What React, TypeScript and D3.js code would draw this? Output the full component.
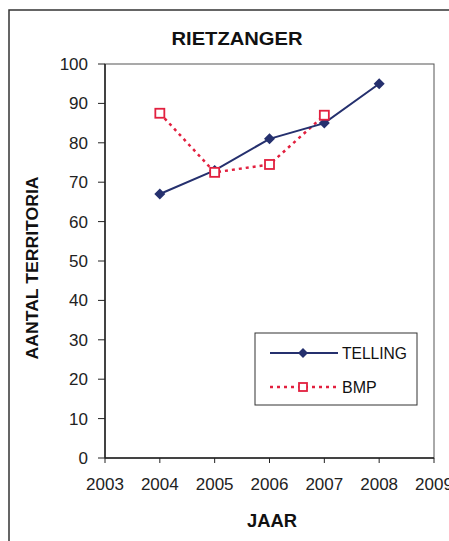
import React from "react";
import * as d3 from "d3";

const years = [2004, 2005, 2006, 2007, 2008];
const telling = [67, 73, 81, 85, 95];
const bmpYears = [2004, 2005, 2006, 2007];
const bmp = [87.5, 72.5, 74.5, 87];
const xTicks = [2003, 2004, 2005, 2006, 2007, 2008, 2009];
const yTicks = [0, 10, 20, 30, 40, 50, 60, 70, 80, 90, 100];
const title = "RIETZANGER";
const xTitle = "JAAR";
const yTitle = "AANTAL TERRITORIA";
const seriesNames = ["TELLING", "BMP"];

const W = 449;
const H = 541;
const FONT = "'Liberation Sans', Arial, sans-serif";
const NAVY = "#25306e";
const RED = "#e2203f";

export default function App() {
  const x = d3.scaleLinear().domain([2003, 2009]).range([105, 434]);
  const y = d3.scaleLinear().domain([0, 100]).range([458, 64]);
  const line = d3
    .line<[number, number]>()
    .x((d) => x(d[0]))
    .y((d) => y(d[1]));
  const tData: [number, number][] = years.map((yr, i) => [yr, telling[i]]);
  const bData: [number, number][] = bmpYears.map((yr, i) => [yr, bmp[i]]);
  const diamond = (cx: number, cy: number, r: number) =>
    `M${cx},${cy - r}L${cx + r},${cy}L${cx},${cy + r}L${cx - r},${cy}Z`;

  return (
    <svg
      width={W}
      height={H}
      style={{ position: "absolute", left: 0, top: 0, background: "#fff" }}
      fontFamily={FONT}
    >
      <rect x={0} y={0} width={W} height={H} fill="#fff" />
      {/* outer frame */}
      <rect x={9} y={10} width={470} height={580} fill="none" stroke="#333" strokeWidth={1.5} />
      {/* title */}
      <text x={237} y={45} textAnchor="middle" fontSize={18} fontWeight="bold" fill="#111" textLength={131} lengthAdjust="spacingAndGlyphs">
        {title}
      </text>
      {/* plot box */}
      <rect x={x(2003)} y={y(100)} width={x(2009) - x(2003)} height={y(0) - y(100)} fill="none" stroke="#555" strokeWidth={1} />
      {/* axes */}
      <line x1={x(2003)} x2={x(2003)} y1={y(100)} y2={y(0)} stroke="#222" strokeWidth={1.5} />
      <line x1={x(2003)} x2={x(2009)} y1={y(0)} y2={y(0)} stroke="#222" strokeWidth={1.5} />
      {yTicks.map((t) => (
        <g key={"y" + t}>
          <line x1={x(2003) - 7} x2={x(2003)} y1={y(t)} y2={y(t)} stroke="#222" strokeWidth={1} />
          <text x={88} y={y(t) + 6} textAnchor="end" fontSize={17} fill="#222">
            {t}
          </text>
        </g>
      ))}
      {xTicks.map((t) => (
        <g key={"x" + t}>
          <line x1={x(t)} x2={x(t)} y1={y(0)} y2={y(0) + 5} stroke="#222" strokeWidth={1} />
          <text x={x(t)} y={490} textAnchor="middle" fontSize={17} fill="#222">
            {t}
          </text>
        </g>
      ))}
      <text x={272} y={527} textAnchor="middle" fontSize={18} fontWeight="bold" fill="#111" textLength={50} lengthAdjust="spacingAndGlyphs">
        {xTitle}
      </text>
      <text
        transform={`translate(38,268) rotate(-90)`}
        textAnchor="middle"
        fontSize={17}
        fontWeight="bold"
        fill="#111"
        textLength={183}
        lengthAdjust="spacingAndGlyphs"
      >
        {yTitle}
      </text>
      {/* series */}
      <path d={line(bData) || ""} fill="none" stroke={RED} strokeWidth={2.5} strokeDasharray="3 4" />
      <path d={line(tData) || ""} fill="none" stroke={NAVY} strokeWidth={2} />
      {tData.map((d, i) => (
        <path key={"t" + i} d={diamond(x(d[0]), y(d[1]), 5.5)} fill={NAVY} />
      ))}
      {bData.map((d, i) => (
        <rect key={"b" + i} x={x(d[0]) - 4.5} y={y(d[1]) - 4.5} width={9} height={9} fill="#fff" stroke={RED} strokeWidth={1.8} />
      ))}
      {/* legend */}
      <rect x={255} y={333} width={162} height={72} fill="#fff" stroke="#333" strokeWidth={1} />
      <line x1={270} x2={338} y1={353} y2={353} stroke={NAVY} strokeWidth={2} />
      <path d={diamond(303, 353, 5)} fill={NAVY} />
      <text x={342} y={359} fontSize={16} fill="#111" textLength={65} lengthAdjust="spacingAndGlyphs">
        {seriesNames[0]}
      </text>
      <line x1={270} x2={338} y1={387} y2={387} stroke={RED} strokeWidth={2.5} strokeDasharray="3 4" />
      <rect x={299} y={383} width={8} height={8} fill="#fff" stroke={RED} strokeWidth={1.8} />
      <text x={342} y={393} fontSize={16} fill="#111">
        {seriesNames[1]}
      </text>
    </svg>
  );
}
